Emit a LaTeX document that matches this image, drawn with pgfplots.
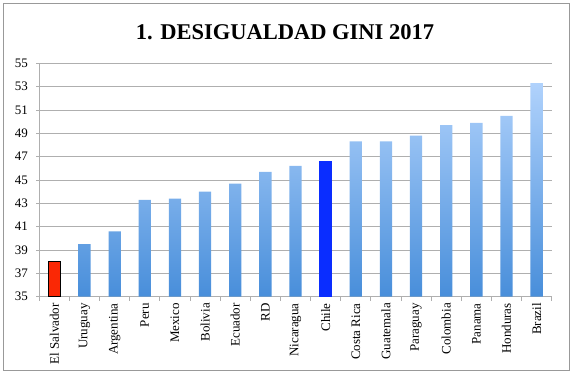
\documentclass[border=0pt]{standalone}
\usepackage{fontspec}
\setmainfont{Liberation Serif}
\usepackage{pgfplots}
\pgfplotsset{compat=1.18}
\definecolor{bartop}{RGB}{176,210,252}
\definecolor{barbot}{RGB}{72,142,218}
\definecolor{chileblue}{RGB}{10,45,255}
\definecolor{elsred}{RGB}{250,40,5}
\definecolor{gridgray}{RGB}{175,175,175}
\begin{document}
\begin{tikzpicture}
\useasboundingbox (0,0) rectangle (578pt,386pt);
\draw[gray!80, line width=0.8pt] (3.5pt,16pt) rectangle (569pt,383pt);
\node[font=\bfseries\fontsize{22.5}{23}\selectfont] at (285pt,354pt) {1. DESIGUALDAD GINI 2017};
\begin{axis}[
  at={(39.3pt,89.3pt)}, anchor=south west,
  scale only axis, width=512.4pt, height=233.4pt,
  xmin=-0.5, xmax=16.5, ymin=35, ymax=55,
  ytick={35,37,...,55},
  xtick={0,...,16},
  xticklabels={El Salvador,Uruguay,Argentina,Peru,Mexico,Bolivia,Ecuador,RD,Nicaragua,Chile,Costa Rica,Guatemala,Paraguay,Colombia,Panama,Honduras,Brazil},
  minor xtick={-0.5,0.5,...,16.5},
  /pgf/number format/assume math mode=true,
  x tick label style={rotate=90, anchor=east, font=\fontsize{13}{14}\selectfont},
  y tick label style={font=\fontsize{13}{14}\selectfont, xshift=-5pt},
  ymajorgrids, grid style={gridgray, line width=0.8pt},
  axis x line*=bottom, axis y line*=left,
  axis line style={gridgray, line width=0.8pt},
  tick align=outside,
  major x tick style={draw=none},
  minor x tick style={gridgray, line width=0.8pt},
  major y tick style={gridgray, line width=0.8pt},
  major tick length=3pt, minor tick length=4pt,
]
\addplot[ybar, bar width=12.3pt, bar shift=0pt, draw=none, top color=bartop, bottom color=barbot]
 coordinates {(1,39.5) (2,40.6) (3,43.3) (4,43.4) (5,44.0) (6,44.7) (7,45.7) (8,46.2)
 (10,48.3) (11,48.3) (12,48.8) (13,49.7) (14,49.9) (15,50.5) (16,53.3)};
\addplot[ybar, bar width=12.3pt, bar shift=0pt, draw=none, fill=chileblue]
 coordinates {(9,46.6)};
\addplot[ybar, bar width=12.3pt, bar shift=0pt, draw=black, line width=0.8pt, fill=elsred]
 coordinates {(0,38.0)};
\end{axis}
\end{tikzpicture}
\end{document}
